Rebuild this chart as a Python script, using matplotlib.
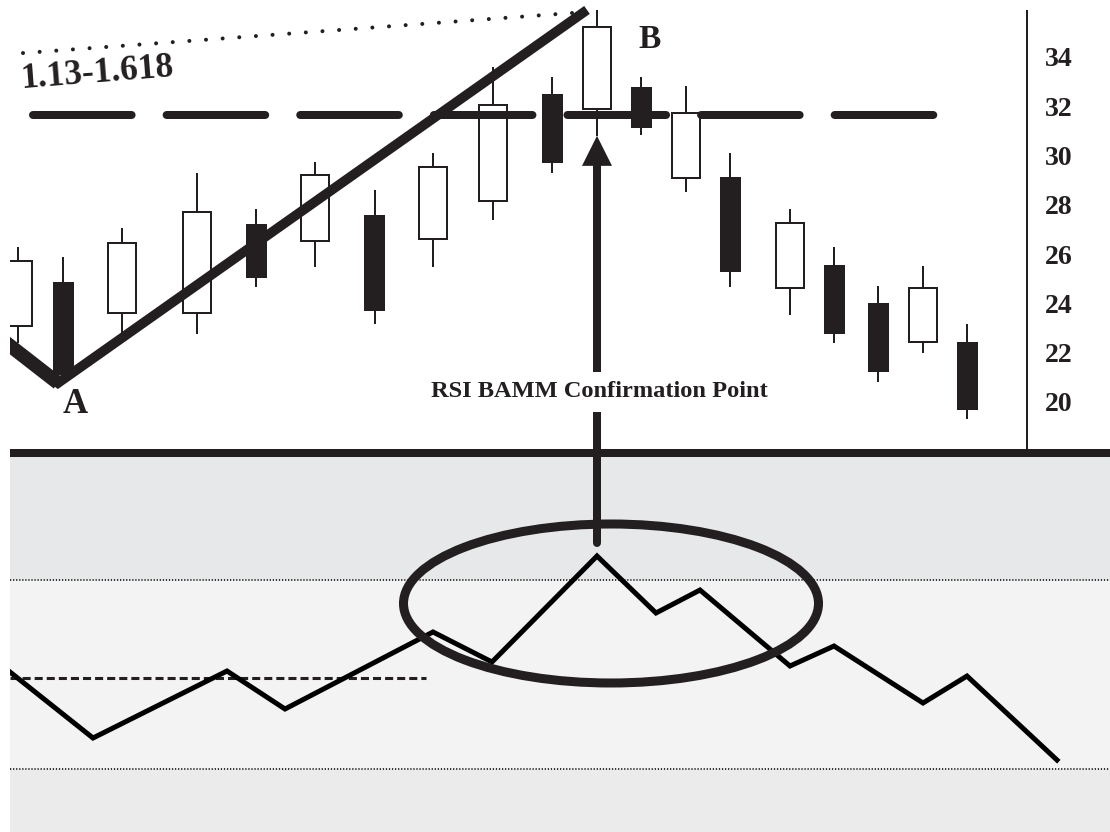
import matplotlib
matplotlib.use('Agg')
import matplotlib.pyplot as plt
from matplotlib.patches import Ellipse

plt.rcParams['lines.scale_dashes'] = False
SERIF = ['Liberation Serif', 'DejaVu Serif']

INK = '#231f20'

# ---------------- price panel data ----------------
x_pos  = [18, 63, 122, 197, 256, 315, 374.5, 433, 493, 552, 597, 641, 686, 730, 790, 834, 878, 923, 967]
opens  = [23.08, 24.87, 23.60, 23.60, 27.22, 26.53, 27.60, 26.60, 28.16, 32.50, 31.89, 32.78, 29.09, 29.13, 24.63, 25.56, 24.02, 22.43, 22.43]
highs  = [26.30, 25.90, 27.05, 29.30, 27.83, 29.74, 28.60, 30.10, 33.60, 33.19, 35.90, 33.19, 32.82, 30.10, 27.83, 26.29, 24.70, 25.52, 23.17]
lows   = [22.40, 20.90, 22.80, 22.76, 24.67, 25.48, 23.17, 25.48, 27.39, 29.30, 30.80, 30.84, 28.52, 24.67, 23.53, 22.39, 20.81, 21.99, 19.31]
closes = [25.72, 21.10, 26.45, 27.70, 25.03, 29.21, 23.70, 29.54, 32.05, 29.70, 35.20, 31.10, 31.73, 25.28, 27.26, 22.76, 21.22, 24.63, 19.68]
price_ticks = [20, 22, 24, 26, 28, 30, 32, 34]

trend_x = [0, 58, 587]
trend_y = [22.60, 20.77, 35.91]
fib_x = [23, 587]
fib_y = [34.16, 35.83]
resistance_level = 31.65
resistance_x = [33, 934]

# ---------------- RSI panel data ----------------
rsi_x = [10, 93, 227, 285, 433, 492, 597, 656, 700, 790, 834, 923, 967, 1057]
rsi_y = [50.53, 36.56, 50.74, 42.70, 59.00, 52.65, 75.08, 63.02, 67.88, 51.80, 56.03, 43.97, 49.68, 31.90]
rsi_levels = [70, 30]
rsi_mid = 49.26
rsi_mid_x = [10, 426]

# ---------------- figure ----------------
W, H = 1110, 832
fig = plt.figure(figsize=(W / 100, H / 100), dpi=100)
fig.patch.set_facecolor('white')

ax_bot = fig.add_axes([10 / W, 0, 1100 / W, 379 / H])
ax_top = fig.add_axes([10 / W, 379 / H, 1100 / W, 453 / H])
ax_top.patch.set_visible(False)

for ax in (ax_top, ax_bot):
    ax.set_xlim(10, 1110)
    ax.set_xticks([])

ax_top.set_ylim(17.93, 36.313)
ax_bot.set_ylim(16.67, 96.88)

# ---- RSI panel ----
ax_bot.axhspan(rsi_levels[0], 96.88, color='#e7e8ea', zorder=0)
ax_bot.axhspan(rsi_levels[1], rsi_levels[0], color='#f3f3f3', zorder=0)
ax_bot.axhspan(16.67, rsi_levels[1], color='#ebebeb', zorder=0)
for lv in rsi_levels:
    ax_bot.axhline(lv, color='#222222', lw=1.3, dashes=(0.9, 1.3), zorder=1)
ax_bot.plot(rsi_mid_x, [rsi_mid] * 2, color=INK, lw=2.2, dashes=(5.8, 2.9), zorder=2)
ax_bot.plot(rsi_x, rsi_y, color='black', lw=3.6, solid_joinstyle='miter', zorder=4)
ax_bot.add_patch(Ellipse((611, 65.03), width=415, height=33.65, fill=False,
                         edgecolor=INK, lw=6.5, zorder=5))
ax_bot.set_yticks([])
for s in ['left', 'right', 'bottom']:
    ax_bot.spines[s].set_visible(False)
ax_bot.spines['top'].set_linewidth(5.76)
ax_bot.spines['top'].set_color(INK)
ax_bot.spines['top'].set_capstyle('butt')

# ---- price panel ----
for s in ['left', 'top', 'bottom']:
    ax_top.spines[s].set_visible(False)
ax_top.spines['right'].set_position(('data', 1027))
ax_top.spines['right'].set_bounds(17.93, 35.91)
ax_top.spines['right'].set_linewidth(1.44)
ax_top.spines['right'].set_color(INK)
ax_top.spines['right'].set_capstyle('butt')
ax_top.yaxis.tick_right()
ax_top.set_yticks(price_ticks)
ax_top.set_yticklabels([str(t) for t in price_ticks], fontfamily=SERIF,
                       fontweight='bold', fontsize=20, color=INK)
ax_top.tick_params(axis='y', length=0, pad=13)

up = [i for i in range(len(x_pos)) if closes[i] >= opens[i]]
dn = [i for i in range(len(x_pos)) if closes[i] < opens[i]]
ax_top.vlines(x_pos, lows, highs, color=INK, lw=1.44, zorder=2)
ax_top.bar([x_pos[i] for i in up], [closes[i] - opens[i] for i in up],
           bottom=[opens[i] for i in up], width=28, facecolor='white',
           edgecolor=INK, linewidth=1.44, zorder=3)
ax_top.bar([x_pos[i] for i in dn], [opens[i] - closes[i] for i in dn],
           bottom=[closes[i] for i in dn], width=21, color=INK, linewidth=0, zorder=3)

ax_top.plot(resistance_x, [resistance_level] * 2, color=INK, lw=5.76,
            dashes=(71, 25.2), dash_capstyle='round', zorder=4)
ax_top.plot(trend_x, trend_y, color=INK, lw=7, solid_joinstyle='miter',
            solid_capstyle='butt', zorder=5)
ax_top.plot(trend_x[:2], trend_y[:2], color=INK, lw=10, solid_capstyle='butt', zorder=5)
ax_top.plot(fib_x, fib_y, color=INK, lw=2.9, dashes=(0.01, 12),
            dash_capstyle='round', zorder=5)

ax_top.text(97, 33.35, '1.13-1.618', fontfamily=SERIF, fontweight='bold',
            fontsize=25.5, color=INK, ha='center', va='center', rotation=4.5,
            rotation_mode='anchor')
ax_top.text(75, 19.88, 'A', fontfamily=SERIF, fontweight='bold', fontsize=25,
            color=INK, ha='center', va='center')
ax_top.text(650, 34.73, 'B', fontfamily=SERIF, fontweight='bold', fontsize=24,
            color=INK, ha='center', va='center')

# ---- confirmation arrow from RSI peak to candle B ----
iB = 10
ipk = rsi_y.index(max(rsi_y))
xB = x_pos[iB]
tip_disp = ax_top.transData.transform((xB, lows[iB]))
tail_disp = ax_bot.transData.transform((rsi_x[ipk], rsi_y[ipk]))
tail_disp[1] += 13
inv = ax_top.transData.inverted()
tail_v = inv.transform(tail_disp)[1]
base_l = inv.transform((tip_disp[0] - 15, tip_disp[1] - 30))
base_r = inv.transform((tip_disp[0] + 15, tip_disp[1] - 30))
ax_top.plot([xB, xB], [tail_v, base_l[1] + 0.05], color=INK, lw=5.76,
            solid_capstyle='round', clip_on=False, zorder=6)
ax_top.fill([base_l[0], xB, base_r[0]], [base_l[1], lows[iB], base_r[1]],
            color=INK, lw=0, clip_on=False, zorder=6)
ax_top.text(599, 20.41, 'RSI BAMM Confirmation Point', fontfamily=SERIF,
            fontweight='bold', fontsize=17.6, color=INK, ha='center', va='center',
            zorder=7, bbox=dict(boxstyle='square,pad=0.39', fc='white', ec='none'))

fig.savefig('out.png', dpi=100, facecolor='white')
